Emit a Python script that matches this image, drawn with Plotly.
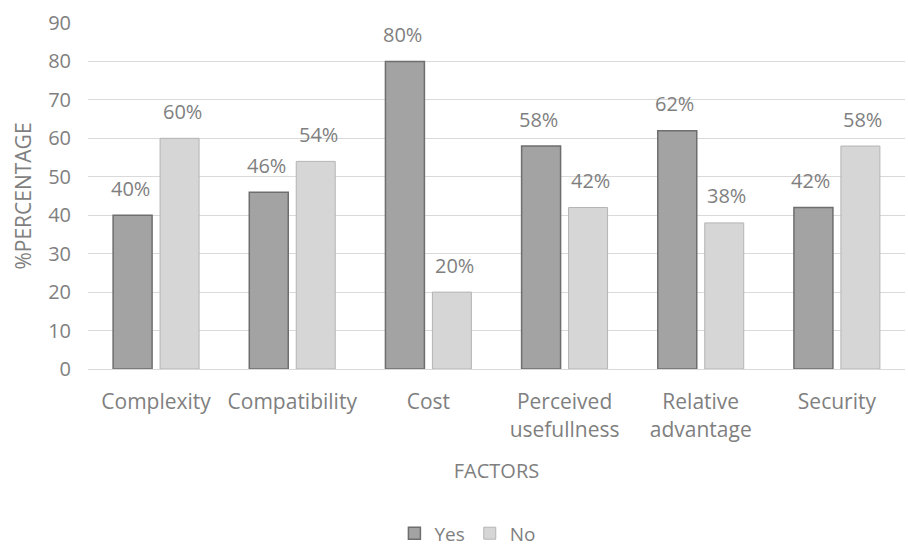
import plotly.graph_objects as go

# Survey results by adoption factor
factors = ["Complexity", "Compatibility", "Cost", "Perceived<br>usefullness",
           "Relative<br>advantage", "Security"]
yes_pct = [40, 46, 80, 58, 62, 42]
no_pct = [60, 54, 20, 42, 38, 58]
y_ticks = [0, 10, 20, 30, 40, 50, 60, 70, 80, 90]

text_gray = "#7f7f7f"
font_family = "Open Sans, Liberation Sans, sans-serif"

fig = go.Figure()
fig.add_trace(go.Bar(
    name="Yes", x=factors, y=yes_pct,
    marker=dict(color="#a3a3a3", line=dict(color="#6e6e6e", width=1.5)),
))
fig.add_trace(go.Bar(
    name="No", x=factors, y=no_pct,
    marker=dict(color="#d6d6d6", line=dict(color="#b4b4b4", width=1)),
))

# Percentage labels above each bar
for series, shift in ((yes_pct, -26), (no_pct, 26)):
    for f, v in zip(factors, series):
        fig.add_annotation(
            x=f, y=v, xref="x", yref="y", text=f"{v}%", showarrow=False,
            xshift=shift, yshift=27, font=dict(size=20, color=text_gray, family=font_family),
        )

fig.update_layout(
    width=908, height=550,
    margin=dict(l=88, r=3, t=23, b=181, autoexpand=False),
    paper_bgcolor="white", plot_bgcolor="white",
    barmode="group", bargap=0.31, bargroupgap=0.17,
    font=dict(family=font_family, size=20, color=text_gray),
    showlegend=True,
    legend=dict(orientation="h", x=0.465, xanchor="center", y=-0.475, yanchor="middle",
                font=dict(size=19, color=text_gray), traceorder="normal",
                itemwidth=30, tracegroupgap=0),
    xaxis=dict(
        title=dict(text="FACTORS", font=dict(size=20, color=text_gray), standoff=22),
        tickfont=dict(size=21, color=text_gray), automargin=False,
        showline=True, linecolor="#d9d9d9", linewidth=1, ticks="",
        ticklabelstandoff=14,
    ),
    yaxis=dict(
        title=dict(text="%PERCENTAGE", font=dict(size=21, color=text_gray), standoff=10),
        range=[0, 90], tickvals=y_ticks, tickfont=dict(size=20, color=text_gray),
        showgrid=True, gridcolor="#d9d9d9", gridwidth=1, zeroline=False, ticks="",
        ticklabelstandoff=16, automargin=False,
    ),
)

fig.write_html("out.html")
